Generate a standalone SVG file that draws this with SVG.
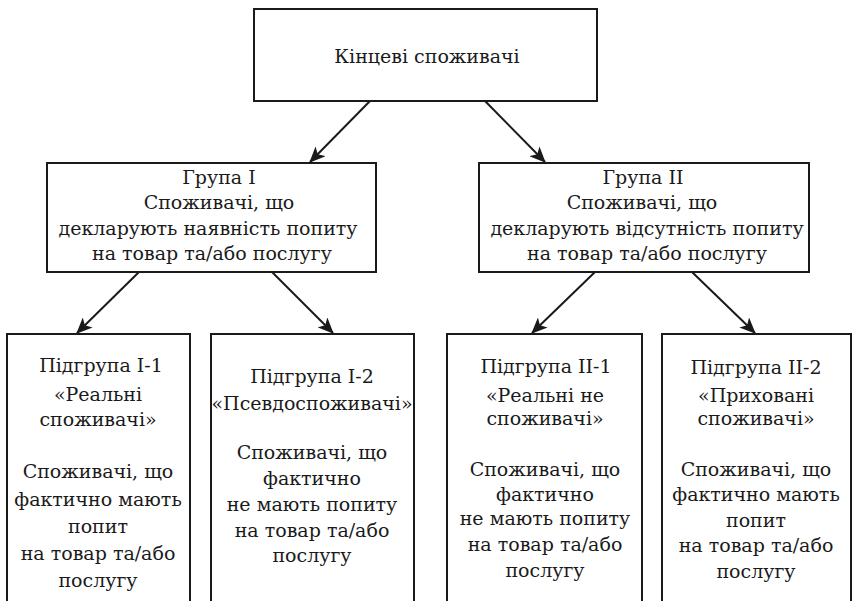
<svg xmlns="http://www.w3.org/2000/svg" width="854" height="601" viewBox="0 0 854 601">
<style>
.box{fill:#fff;stroke:#1a1a1a;stroke-width:2}
.t{font-family:"DejaVu Serif","Liberation Serif",serif;font-size:19px;fill:#1a1a1a;text-anchor:middle}
.c{stroke:#1a1a1a;stroke-width:2;fill:none;marker-end:url(#ah)}
</style>
<defs>
<marker id="ah" markerWidth="16" markerHeight="14" refX="15" refY="7" orient="auto" markerUnits="userSpaceOnUse">
<path d="M0,0 L16,7 L0,14 L4,7 Z" fill="#1a1a1a"/>
</marker>
</defs>
<rect width="854" height="601" fill="#fff"/>
<g id="connectors">
<line class="c" x1="370" y1="101" x2="310" y2="162"/>
<line class="c" x1="485" y1="101" x2="545" y2="162"/>
<line class="c" x1="139" y1="272" x2="77" y2="333"/>
<line class="c" x1="272" y1="272" x2="333" y2="333"/>
<line class="c" x1="595" y1="272" x2="532" y2="333"/>
<line class="c" x1="692" y1="272" x2="755" y2="333"/>
</g>
<g id="root">
<rect class="box" x="254" y="9" width="343" height="92"/>
<text class="t" x="427" y="63">Кінцеві споживачі</text>
</g>
<g id="group1">
<rect class="box" x="47" y="163" width="329" height="109"/>
<text class="t" x="219" y="184">Група I</text>
<text class="t" x="219" y="209">Споживачі, що</text>
<text class="t" x="208" y="235">декларують наявність попиту</text>
<text class="t" x="212" y="260">на товар та/або послугу</text>
</g>
<g id="group2">
<rect class="box" x="479" y="163" width="330" height="109"/>
<text class="t" x="643" y="184">Група II</text>
<text class="t" x="642" y="209">Споживачі, що</text>
<text class="t" x="647" y="235">декларують відсутність попиту</text>
<text class="t" x="647" y="260">на товар та/або послугу</text>
</g>
<g id="sub1">
<rect class="box" x="7" y="334" width="183" height="280"/>
<text class="t" x="101" y="372">Підгрупа I-1</text>
<text class="t" x="98" y="401">«Реальні</text>
<text class="t" x="98" y="426">споживачі»</text>
<text class="t" x="98" y="478">Споживачі, що</text>
<text class="t" x="98" y="506">фактично мають</text>
<text class="t" x="98" y="533">попит</text>
<text class="t" x="98" y="560">на товар та/або</text>
<text class="t" x="98" y="587">послугу</text>
</g>
<g id="sub2">
<rect class="box" x="211" y="334" width="203" height="280"/>
<text class="t" x="312" y="383">Підгрупа I-2</text>
<text class="t" x="312" y="410">«Псевдоспоживачі»</text>
<text class="t" x="312" y="459">Споживачі, що</text>
<text class="t" x="312" y="485">фактично</text>
<text class="t" x="312" y="511">не мають попиту</text>
<text class="t" x="312" y="537">на товар та/або</text>
<text class="t" x="312" y="562">послугу</text>
</g>
<g id="sub3">
<rect class="box" x="447" y="334" width="195" height="280"/>
<text class="t" x="546" y="373">Підгрупа II-1</text>
<text class="t" x="545" y="402">«Реальні не</text>
<text class="t" x="545" y="425">споживачі»</text>
<text class="t" x="545" y="476">Споживачі, що</text>
<text class="t" x="545" y="501">фактично</text>
<text class="t" x="545" y="525">не мають попиту</text>
<text class="t" x="545" y="551">на товар та/або</text>
<text class="t" x="545" y="577">послугу</text>
</g>
<g id="sub4">
<rect class="box" x="662" y="334" width="189" height="280"/>
<text class="t" x="756" y="374">Підгрупа II-2</text>
<text class="t" x="756" y="402">«Приховані</text>
<text class="t" x="756" y="425">споживачі»</text>
<text class="t" x="756" y="476">Споживачі, що</text>
<text class="t" x="756" y="501">фактично мають</text>
<text class="t" x="756" y="527">попит</text>
<text class="t" x="756" y="552">на товар та/або</text>
<text class="t" x="756" y="578">послугу</text>
</g>
</svg>
